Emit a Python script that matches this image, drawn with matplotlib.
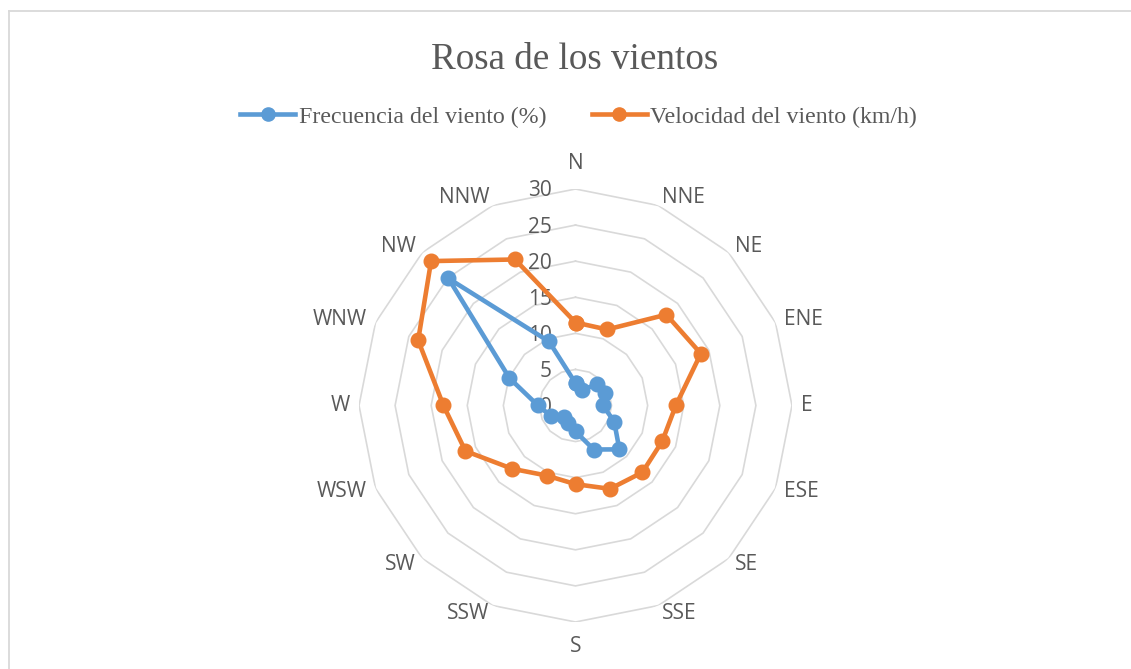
import numpy as np
import matplotlib.pyplot as plt
from matplotlib.lines import Line2D
from matplotlib.transforms import ScaledTranslation

directions = ['N', 'NNE', 'NE', 'ENE', 'E', 'ESE', 'SE', 'SSE',
              'S', 'SSW', 'SW', 'WSW', 'W', 'WNW', 'NW', 'NNW']
frecuencia = [3.1, 2.3, 4.2, 4.4, 3.8, 5.8, 8.6, 6.6,
              3.6, 2.6, 2.3, 3.7, 5.2, 9.9, 24.9, 9.6]
velocidad = [11.5, 11.4, 17.8, 18.8, 13.9, 13.0, 13.1, 12.5,
             10.9, 10.5, 12.4, 16.5, 18.3, 23.6, 28.3, 21.9]
rings = [5, 10, 15, 20, 25, 30]
radial_labels = [0, 5, 10, 15, 20, 25, 30]

blue = '#5B9BD5'
orange = '#ED7D31'
grey_txt = '#595959'
grid_col = '#D9D9D9'

W, H = 1131, 669
fig = plt.figure(figsize=(W / 100, H / 100), dpi=100)

# polar axes placed so the centre/radius match the original
cx, cy, R = 575.5, 405.5, 216.5
ax = fig.add_axes([(cx - R) / W, (H - cy - R) / H, 2 * R / W, 2 * R / H],
                  projection='polar')
ax.set_theta_zero_location('N')
ax.set_theta_direction(-1)
ax.set_ylim(0, 30)
ax.grid(False)
ax.spines['polar'].set_visible(False)
ax.patch.set_alpha(0)
ax.set_xticks([])
ax.set_yticks([])

theta = np.arange(len(directions)) * 2 * np.pi / len(directions)
closed = np.append(theta, theta[0])

# polygon rings (straight segments)
for r in rings:
    ax.plot(closed, [r] * len(closed), color=grid_col, lw=1.2, zorder=1)

# category labels, Excel-like: pushed out from the outer vertex
for t, lab in zip(theta, directions):
    ux, uy = np.sin(t), np.cos(t)
    if abs(ux) < 0.1:
        ha, pad = 'center', 25
    else:
        ha, pad = ('left' if ux > 0 else 'right'), 9
    tr = ax.transData + ScaledTranslation(pad * ux / 100, pad * uy / 100,
                                          fig.dpi_scale_trans)
    ax.text(t, 30, lab, transform=tr, ha=ha, va='center', fontsize=15,
            color=grey_txt, family='Open Sans')

off = ax.transData + ScaledTranslation(-0.235, -0.02, fig.dpi_scale_trans)
for v in radial_labels:
    ax.text(0, v, str(v), transform=off, ha='right', va='center',
            fontsize=15, color=grey_txt, family='Open Sans', zorder=2)

ax.plot(closed, frecuencia + frecuencia[:1], color=blue, lw=3.3,
        marker='o', ms=10.5, zorder=3, clip_on=False)
ax.plot(closed, velocidad + velocidad[:1], color=orange, lw=3.3,
        marker='o', ms=10.5, zorder=4, clip_on=False)

fig.text(575 / W, 1 - 56 / H, 'Rosa de los vientos', ha='center', va='center_baseline',
         fontsize=26.7, color=grey_txt, family='Liberation Serif')

handles = [Line2D([], [], color=blue, lw=3.3, marker='o', ms=9.5),
           Line2D([], [], color=orange, lw=3.3, marker='o', ms=9.5)]
fig.legend(handles, ['Frecuencia del viento (%)', 'Velocidad del viento (km/h)'],
           loc='center', bbox_to_anchor=(578.5 / W, 1 - 117 / H), ncol=2,
           frameon=False, handlelength=2.3, handletextpad=0.15, columnspacing=1.9,
           prop={'family': 'Liberation Serif', 'size': 17.2}, labelcolor=grey_txt)

# chart border (top and left visible)
fig.add_artist(Line2D([8.5 / W, 1], [1 - 10.5 / H] * 2, color=grid_col, lw=1.3))
fig.add_artist(Line2D([8.5 / W] * 2, [0, 1 - 10.5 / H], color=grid_col, lw=1.3))

fig.savefig('out.png', dpi=100)
